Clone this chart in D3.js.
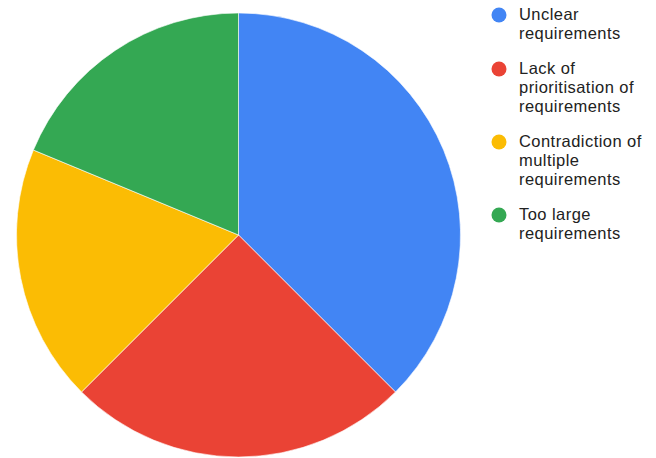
<!DOCTYPE html>
<html>
<head>
<meta charset="utf-8">
<script src="https://cdn.jsdelivr.net/npm/d3@7"></script>
<style>
  html, body { margin: 0; padding: 0; background: #fff; }
  svg { display: block; }
  text { font-family: "Liberation Sans", Arial, sans-serif; }
</style>
</head>
<body>
<svg id="chart" width="656" height="458"></svg>
<script>
// Causes of requirements problems (share of responses)
const categories = [
  "Unclear requirements",
  "Lack of prioritisation of requirements",
  "Contradiction of multiple requirements",
  "Too large requirements"
];
const values = [6, 4, 3, 3];
const legendLines = [
  ["Unclear", "requirements"],
  ["Lack of", "prioritisation of", "requirements"],
  ["Contradiction of", "multiple", "requirements"],
  ["Too large", "requirements"]
];
const colors = ["#4285f4", "#ea4335", "#fbbc04", "#34a853"];

const svg = d3.select("#chart");
const cx = 238.5, cy = 235, r = 222;

const color = d3.scaleOrdinal().domain(categories).range(colors);
const data = categories.map((c, i) => ({ name: c, value: values[i] }));
const pie = d3.pie().value(d => d.value).sort(null);
const arc = d3.arc().innerRadius(0).outerRadius(r);

svg.append("g")
  .attr("transform", `translate(${cx},${cy})`)
  .selectAll("path")
  .data(pie(data))
  .join("path")
  .attr("d", arc)
  .attr("fill", d => color(d.data.name))
  .attr("stroke", "#fff")
  .attr("stroke-width", 0.6);

// Legend
const lx = 499, tx = 519, lineH = 19, gap = 16;
const legend = svg.append("g");
let y = 14;
legendLines.forEach((lines, i) => {
  const g = legend.append("g");
  g.append("circle")
    .attr("cx", lx).attr("cy", y + 1).attr("r", 7.5)
    .attr("fill", colors[i]);
  const t = g.append("text")
    .attr("font-size", 16.5)
    .attr("letter-spacing", 0.45)
    .attr("fill", "#222");
  lines.forEach((s, k) => {
    t.append("tspan").attr("x", tx).attr("y", y + k * lineH).attr("dy", "0.36em").text(s);
  });
  y += lines.length * lineH + gap;
});
</script>
</body>
</html>
